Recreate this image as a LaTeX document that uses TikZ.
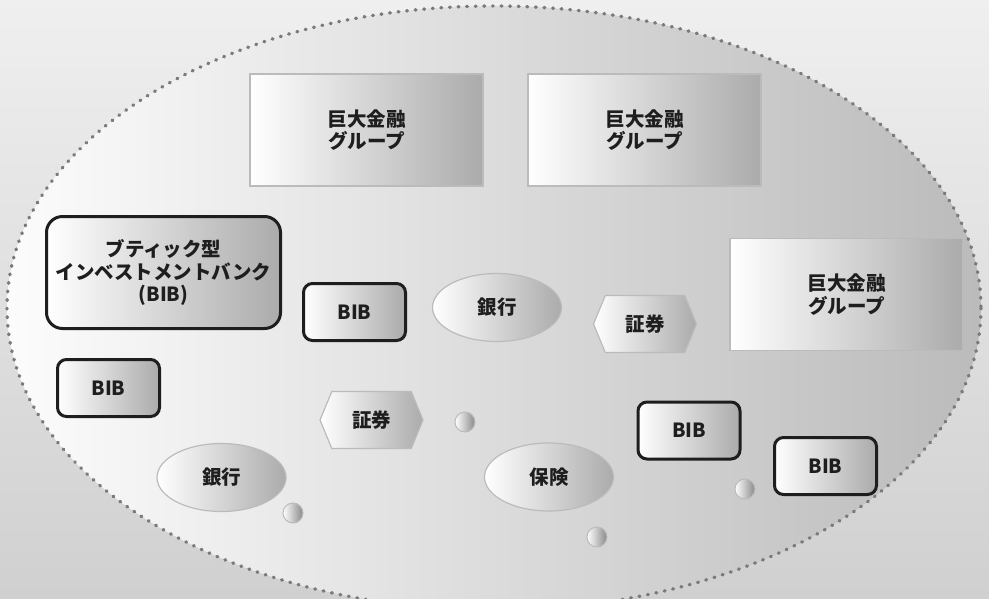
\documentclass[tikz,border=0pt]{standalone}
\usepackage{fontspec}
\setmainfont{Noto Sans CJK JP}
\usetikzlibrary{shapes.geometric,shapes.symbols}
\definecolor{bgtop}{HTML}{EFEFEF}
\definecolor{bgbot}{HTML}{D0D0D0}
\definecolor{elleft}{HTML}{FCFCFC}
\definecolor{elright}{HTML}{BBBBBB}
\definecolor{dotc}{HTML}{7A7A7A}
\definecolor{lightedge}{HTML}{BBBBBB}
\definecolor{shadeend}{HTML}{ABABAB}
\definecolor{darkedge}{HTML}{1E1E1E}
\definecolor{txt}{HTML}{1E1E1E}
\begin{document}
\begin{tikzpicture}[x=1pt,y=-1pt,
  lbl/.style={text=txt,font=\bfseries\fontsize{19.5}{22.5}\selectfont,align=center,inner sep=0pt},
  grp/.style={lbl,rectangle,draw=lightedge,line width=1.2pt,left color=white,right color=shadeend,minimum width=233pt,minimum height=112pt},
  bigbib/.style={lbl,rectangle,rounded corners=16pt,draw=darkedge,line width=3pt,left color=white,right color=shadeend,minimum width=234pt,minimum height=112pt},
  bibbox/.style={lbl,rectangle,rounded corners=9pt,draw=darkedge,line width=3pt,left color=white,right color=shadeend,minimum width=102pt,minimum height=57pt},
  oval/.style={lbl,ellipse,draw=lightedge,line width=1.2pt,left color=white,right color=shadeend,minimum width=129pt,minimum height=68pt},
  hexa/.style={lbl,signal,signal to=east and west,signal pointer angle=135,draw=lightedge,line width=1.2pt,left color=white,right color=shadeend,minimum width=103pt,minimum height=57pt},
  bubble/.style={circle,draw=lightedge,line width=1pt,left color=white,right color=shadeend!80!black,minimum size=20pt,inner sep=0pt},
  dotborder/.style={draw=dotc,line width=3.4pt,line cap=round,dash pattern=on 0.8pt off 7.8pt}
]
\useasboundingbox (0,0) rectangle (989,598);
\shade[top color=bgtop,bottom color=bgbot] (0,0) rectangle (989,598);
\node[ellipse,left color=elleft,right color=elright,minimum width=974pt,minimum height=604pt,inner sep=0pt] (cloud) at (494,308) {};
\draw[dotborder] (cloud.center) ellipse [x radius=487, y radius=302];
\node[grp] (g1) at (366.5,130) {巨大金融\\グループ};
\node[grp] (g2) at (644.5,130) {巨大金融\\グループ};
\node[grp] (g3) at (846.5,294.5) {巨大金融\\グループ};
\node[bigbib] (boutique) at (163.5,272.5) {ブティック型\\インベストメントバンク\\(BIB)};
\node[bibbox] (b1) at (354.5,312) {BIB};
\node[bibbox] (b2) at (108.5,388) {BIB};
\node[bibbox] (b3) at (689,430.5) {BIB};
\node[bibbox] (b4) at (825.5,466) {BIB};
\node[oval] (bank1) at (497,307.5) {銀行};
\node[oval] (bank2) at (221.5,477.5) {銀行};
\node[oval] (ins) at (549,477) {保険};
\node[hexa] (sec1) at (645,324) {証券};
\node[hexa] (sec2) at (371.5,420) {証券};
\node[bubble] (c1) at (465,422) {};
\node[bubble] (c2) at (293,513) {};
\node[bubble] (c3) at (745,489) {};
\node[bubble] (c4) at (597,537) {};
\end{tikzpicture}
\end{document}
